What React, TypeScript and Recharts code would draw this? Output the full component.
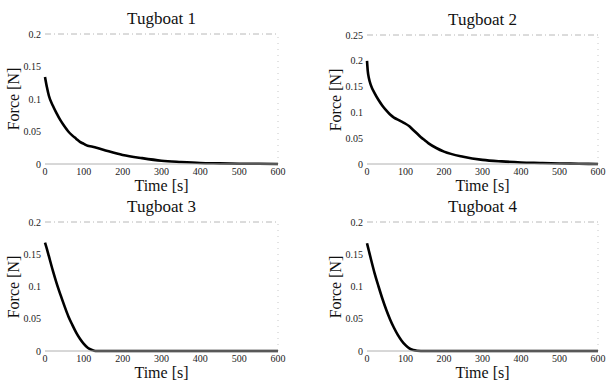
import { LineChart, Line, XAxis, YAxis, ReferenceLine } from 'recharts';

const time1 = [0, 5, 10, 20, 30, 40, 50, 60, 70, 80, 90, 100, 110, 120, 150, 200, 250, 300, 350, 400, 450, 500, 550, 600];
const force1 = [0.134, 0.118, 0.105, 0.09, 0.078, 0.067, 0.058, 0.05, 0.044, 0.039, 0.034, 0.031, 0.028, 0.027, 0.022, 0.014, 0.009, 0.005, 0.003, 0.0015, 0.001, 0.0005, 0.0003, 0];

const time2 = [0, 2, 5, 10, 20, 30, 40, 50, 60, 70, 80, 90, 100, 110, 120, 130, 140, 150, 160, 180, 200, 250, 300, 350, 400, 450, 500, 550, 600];
const force2 = [0.2, 0.18, 0.166, 0.153, 0.137, 0.124, 0.113, 0.104, 0.096, 0.09, 0.086, 0.082, 0.078, 0.073, 0.066, 0.059, 0.052, 0.046, 0.04, 0.031, 0.024, 0.014, 0.008, 0.005, 0.003, 0.002, 0.001, 0.0005, 0];

const time3 = [0, 5, 10, 20, 30, 40, 50, 60, 70, 80, 90, 100, 110, 120, 130, 200, 300, 400, 500, 600];
const force3 = [0.168, 0.158, 0.147, 0.125, 0.105, 0.087, 0.07, 0.054, 0.041, 0.029, 0.019, 0.011, 0.005, 0.002, 0, 0, 0, 0, 0, 0];

const time4 = [0, 5, 10, 20, 30, 40, 50, 60, 70, 80, 90, 100, 110, 120, 130, 150, 200, 300, 400, 500, 600];
const force4 = [0.167, 0.155, 0.143, 0.12, 0.1, 0.081, 0.064, 0.049, 0.036, 0.025, 0.016, 0.009, 0.004, 0.0015, 0.0005, 0, 0, 0, 0, 0, 0];

const xTicks = [0, 100, 200, 300, 400, 500, 600];
const yTicksA = [0, 0.05, 0.1, 0.15, 0.2];
const yTicksB = [0, 0.05, 0.1, 0.15, 0.2, 0.25];

const titles = ['Tugboat 1', 'Tugboat 2', 'Tugboat 3', 'Tugboat 4'];

const FONT = '"Liberation Serif", "Times New Roman", serif';

function zip(t: number[], f: number[]) {
  return t.map((x, i) => ({ t: x, f: f[i] }));
}

function fmtY(v: number) {
  return String(Math.round(v * 100) / 100);
}

interface PanelProps {
  left: number;
  top: number;
  width: number;
  height: number;
  axisW: number;
  mTop: number;
  mRight: number;
  xAxisH: number;
  data: { t: number; f: number }[];
  yTicks: number[];
  title: string;
}

function Panel({ left, top, width, height, axisW, mTop, mRight, xAxisH, data, yTicks, title }: PanelProps) {
  const yMax = yTicks[yTicks.length - 1];
  const plotLeft = axisW;
  const plotRight = width - mRight;
  const plotBottom = height - xAxisH;
  const cx = left + (plotLeft + plotRight) / 2;
  const tickStyle = { fontSize: 10, fontFamily: FONT, fill: '#222' };
  return (
    <>
      <div style={{ position: 'absolute', left: cx - 60, width: 120, top: top + mTop - 24, textAlign: 'center', fontSize: 17, lineHeight: '17px', color: '#111' }}>
        {title}
      </div>
      <div style={{ position: 'absolute', left: cx - 60, width: 120, top: top + plotBottom + 14, textAlign: 'center', fontSize: 16, lineHeight: '16px', color: '#111' }}>
        Time [s]
      </div>
      <div style={{ position: 'absolute', left: left + axisW - 31 - 50, width: 100, top: top + (mTop + plotBottom) / 2 - 8, textAlign: 'center', fontSize: 16, lineHeight: '16px', color: '#111', transform: 'rotate(-90deg)' }}>
        Force [N]
      </div>
      <div style={{ position: 'absolute', left, top }}>
        <LineChart width={width} height={height} data={data} margin={{ top: mTop, right: mRight, left: 0, bottom: 0 }} style={{ fontFamily: FONT }}>
          <XAxis
            dataKey="t"
            type="number"
            domain={[0, 600]}
            ticks={xTicks}
            height={xAxisH}
            tickLine={false}
            tickSize={3}
            tickMargin={1}
            axisLine={{ stroke: '#b0b0b0', strokeWidth: 1 }}
            tick={tickStyle}
            interval={0}
          />
          <YAxis
            type="number"
            domain={[0, yMax]}
            ticks={yTicks}
            width={axisW}
            tickLine={false}
            tickSize={2}
            tickMargin={2}
            axisLine={false}
            tickFormatter={fmtY}
            tick={tickStyle}
            interval={0}
          />
          <ReferenceLine y={yMax} stroke="#b8b8b8" strokeDasharray="6 3 1 3" />
          <ReferenceLine x={600} stroke="#c8c8c8" strokeDasharray="1 5" />
          <Line
            type="monotone"
            dataKey="f"
            stroke="#000"
            strokeWidth={2.6}
            dot={false}
            isAnimationActive={false}
          />
        </LineChart>
      </div>
    </>
  );
}

export default function App() {
  return (
    <div style={{ position: 'absolute', left: 0, top: 0, width: 606, height: 386, background: '#fff', overflow: 'hidden', fontFamily: FONT }}>
      <Panel left={0} top={0} width={300} height={195} axisW={45} mTop={34} mRight={22} xAxisH={31} data={zip(time1, force1)} yTicks={yTicksA} title={titles[0]} />
      <Panel left={300} top={0} width={306} height={195} axisW={67} mTop={35} mRight={8} xAxisH={31} data={zip(time2, force2)} yTicks={yTicksB} title={titles[1]} />
      <Panel left={0} top={190} width={300} height={196} axisW={45} mTop={32} mRight={22} xAxisH={35} data={zip(time3, force3)} yTicks={yTicksA} title={titles[2]} />
      <Panel left={300} top={190} width={306} height={196} axisW={67} mTop={32} mRight={8} xAxisH={35} data={zip(time4, force4)} yTicks={yTicksA} title={titles[3]} />
    </div>
  );
}
